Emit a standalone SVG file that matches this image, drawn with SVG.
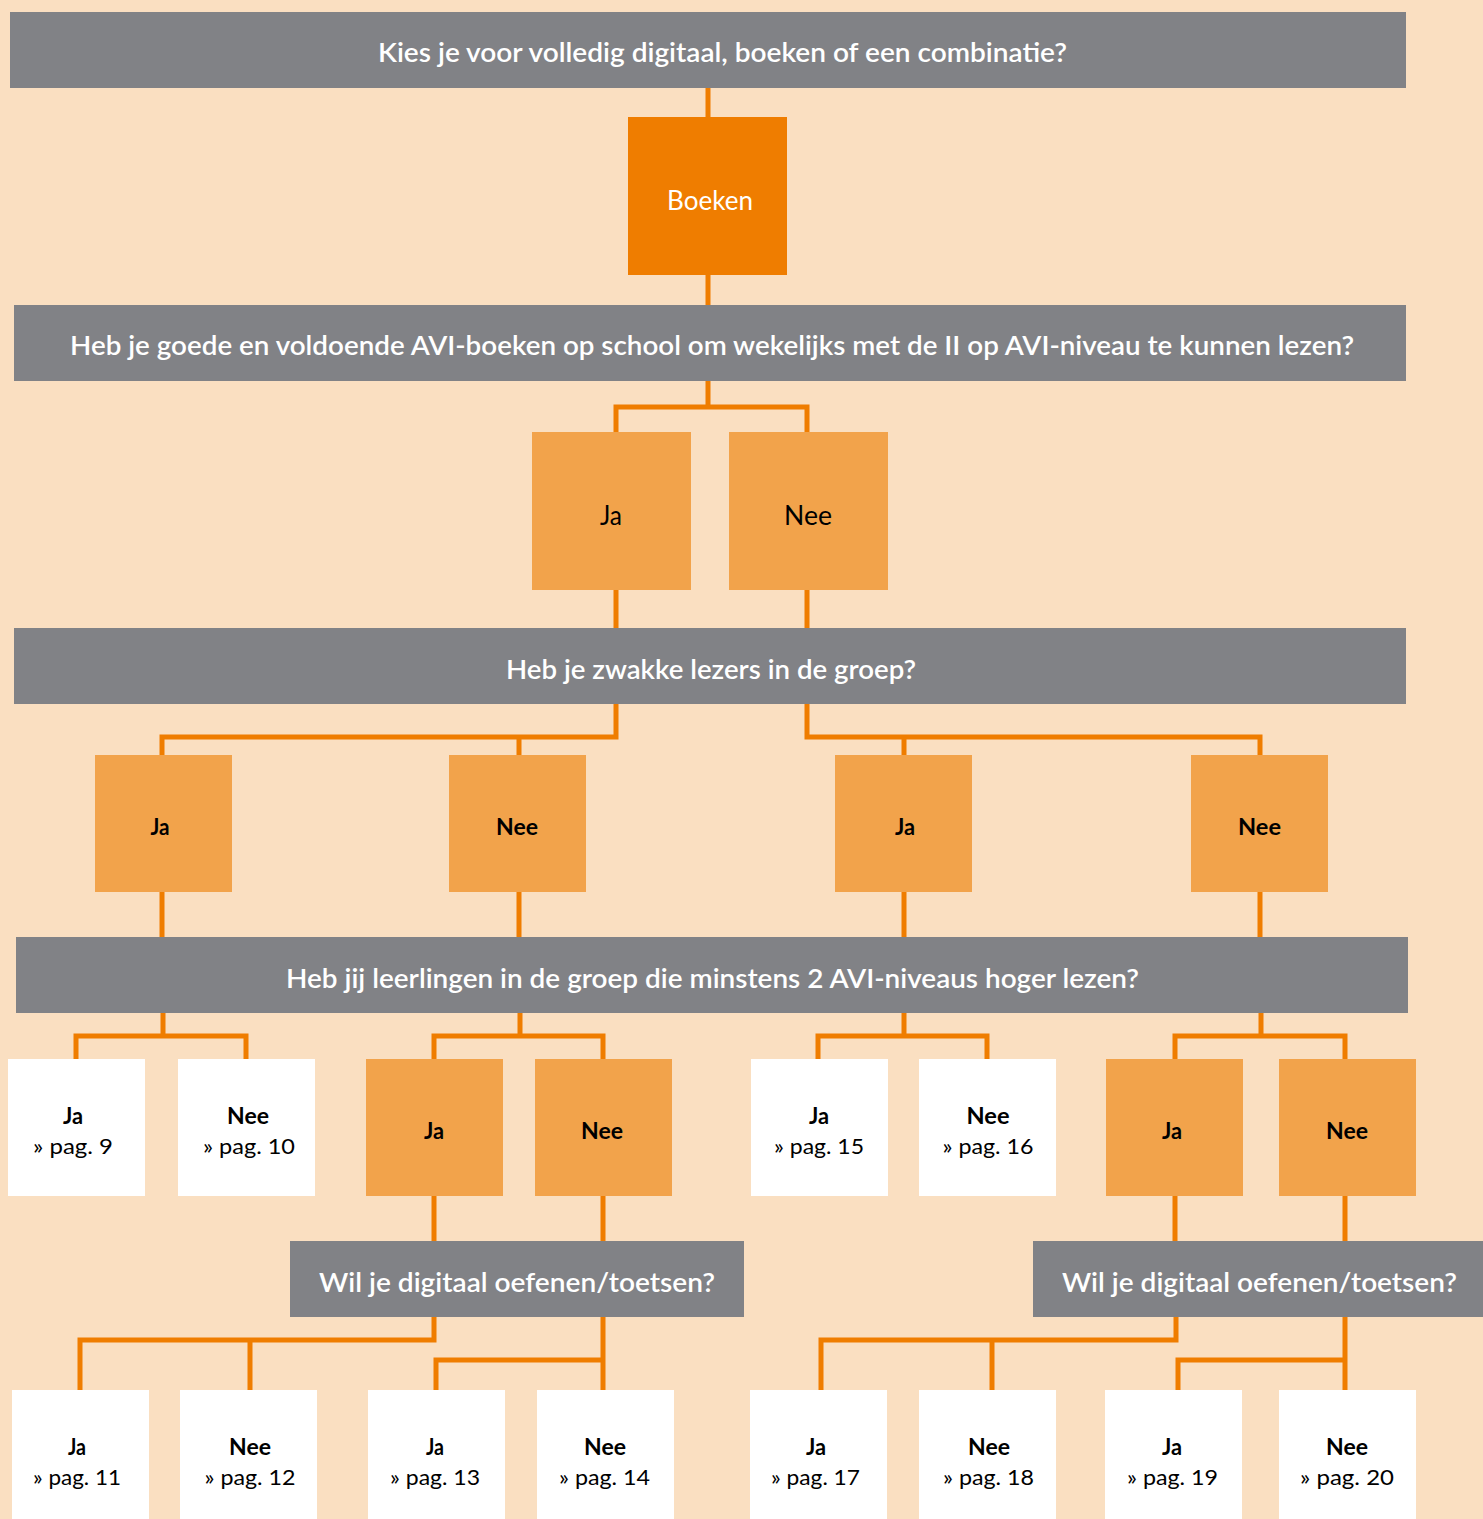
<svg xmlns="http://www.w3.org/2000/svg" width="1483" height="1519" viewBox="0 0 1483 1519">
<style>
.bg{fill:#FADFC1}
.q{fill:#818286}
.qt{font-family:Lato,"Noto Sans","Liberation Sans",sans-serif;font-weight:600;font-size:26px;fill:#FFFFFF;text-anchor:middle}
.dark{fill:#EF7D00}
.lo{fill:#F2A34B}
.wh{fill:#FFFFFF}
.t2{font-family:Lato,"Noto Sans","Liberation Sans",sans-serif;font-weight:400;font-size:27px;fill:#000000;text-anchor:middle}
.t3{font-family:Lato,"Noto Sans","Liberation Sans",sans-serif;font-weight:700;font-size:23px;fill:#000000;text-anchor:middle}
.tb{font-family:Lato,"Noto Sans","Liberation Sans",sans-serif;font-weight:700;font-size:22px;fill:#000000;text-anchor:middle}
.tp{font-family:Lato,"Noto Sans","Liberation Sans",sans-serif;font-weight:400;font-size:22px;fill:#000000;text-anchor:middle}
.boek{font-family:Lato,"Noto Sans","Liberation Sans",sans-serif;font-weight:400;font-size:26px;fill:#FFFFFF;text-anchor:middle}
.c{fill:none;stroke:#EF7D00;stroke-width:5;stroke-linejoin:miter}
</style>
<rect class="bg" x="0" y="0" width="1483" height="1519"/>

<g id="connectors">
<path class="c" d="M708 88V117M708 275V305"/>
<path class="c" d="M708 381V407M616 432V407H807V432"/>
<path class="c" d="M616 590V628M807 590V628"/>
<path class="c" d="M616 704V737H162V755M519 737V755"/>
<path class="c" d="M807 704V737H1260V755M904 737V755"/>
<path class="c" d="M162 892V937M519 892V937M904 892V937M1260 892V937"/>
<path class="c" d="M163 1013V1036M76 1059V1036H246V1059"/>
<path class="c" d="M520 1013V1036M434 1059V1036H603V1059"/>
<path class="c" d="M904 1013V1036M818 1059V1036H987V1059"/>
<path class="c" d="M1261 1013V1036M1175 1059V1036H1345V1059"/>
<path class="c" d="M434 1196V1241M603 1196V1241M1175 1196V1241M1345 1196V1241"/>
<path class="c" d="M434 1317V1340H80V1390M250 1340V1390"/>
<path class="c" d="M603 1317V1390M603 1360H436V1390"/>
<path class="c" d="M1176 1317V1340H821V1390M992 1340V1390"/>
<path class="c" d="M1345 1317V1390M1345 1360H1178V1390"/>
</g>

<g id="q1"><rect class="q" x="10" y="12" width="1396" height="76"/>
<text class="qt" x="722.5" y="62" textLength="689" lengthAdjust="spacingAndGlyphs">Kies je voor volledig digitaal, boeken of een combinatie?</text></g>

<g id="boeken"><rect class="dark" x="628" y="117" width="159" height="158"/>
<text class="boek" x="710" y="210" textLength="86" lengthAdjust="spacingAndGlyphs">Boeken</text></g>

<g id="q2"><rect class="q" x="14" y="305" width="1392" height="76"/>
<text class="qt" x="712" y="355" textLength="1284" lengthAdjust="spacingAndGlyphs">Heb je goede en voldoende AVI-boeken op school om wekelijks met de II op AVI-niveau te kunnen lezen?</text></g>

<g id="q2-ja"><rect class="lo" x="532" y="432" width="159" height="158"/>
<text class="t2" x="611" y="525" textLength="22" lengthAdjust="spacingAndGlyphs">Ja</text></g>
<g id="q2-nee"><rect class="lo" x="729" y="432" width="159" height="158"/>
<text class="t2" x="808" y="525" textLength="48" lengthAdjust="spacingAndGlyphs">Nee</text></g>

<g id="q3"><rect class="q" x="14" y="628" width="1392" height="76"/>
<text class="qt" x="711" y="679" textLength="410" lengthAdjust="spacingAndGlyphs">Heb je zwakke lezers in de groep?</text></g>

<g id="q3-ja-a"><rect class="lo" x="95" y="755" width="137" height="137"/>
<text class="t3" x="160" y="835" textLength="19" lengthAdjust="spacingAndGlyphs">Ja</text></g>
<g id="q3-nee-a"><rect class="lo" x="449" y="755" width="137" height="137"/>
<text class="t3" x="517" y="835" textLength="42" lengthAdjust="spacingAndGlyphs">Nee</text></g>
<g id="q3-ja-b"><rect class="lo" x="835" y="755" width="137" height="137"/>
<text class="t3" x="905" y="835" textLength="20" lengthAdjust="spacingAndGlyphs">Ja</text></g>
<g id="q3-nee-b"><rect class="lo" x="1191" y="755" width="137" height="137"/>
<text class="t3" x="1259.5" y="835" textLength="43" lengthAdjust="spacingAndGlyphs">Nee</text></g>

<g id="q4"><rect class="q" x="16" y="937" width="1392" height="76"/>
<text class="qt" x="712.5" y="988" textLength="853" lengthAdjust="spacingAndGlyphs">Heb jij leerlingen in de groep die minstens 2 AVI-niveaus hoger lezen?</text></g>

<g id="r9"><rect class="wh" x="8" y="1059" width="137" height="137"/>
<text class="tb" x="73" y="1124" textLength="20" lengthAdjust="spacingAndGlyphs">Ja</text>
<text class="tp" x="73" y="1154" textLength="80" lengthAdjust="spacingAndGlyphs">» pag. 9</text></g>
<g id="r10"><rect class="wh" x="178" y="1059" width="137" height="137"/>
<text class="tb" x="248" y="1124" textLength="42" lengthAdjust="spacingAndGlyphs">Nee</text>
<text class="tp" x="249" y="1154" textLength="92" lengthAdjust="spacingAndGlyphs">» pag. 10</text></g>
<g id="q4-ja-a"><rect class="lo" x="366" y="1059" width="137" height="137"/>
<text class="t3" x="434" y="1139" textLength="20" lengthAdjust="spacingAndGlyphs">Ja</text></g>
<g id="q4-nee-a"><rect class="lo" x="535" y="1059" width="137" height="137"/>
<text class="t3" x="602" y="1139" textLength="42" lengthAdjust="spacingAndGlyphs">Nee</text></g>
<g id="r15"><rect class="wh" x="751" y="1059" width="137" height="137"/>
<text class="tb" x="819" y="1124" textLength="20" lengthAdjust="spacingAndGlyphs">Ja</text>
<text class="tp" x="819" y="1154" textLength="90" lengthAdjust="spacingAndGlyphs">» pag. 15</text></g>
<g id="r16"><rect class="wh" x="919" y="1059" width="137" height="137"/>
<text class="tb" x="988" y="1124" textLength="43" lengthAdjust="spacingAndGlyphs">Nee</text>
<text class="tp" x="988" y="1154" textLength="91" lengthAdjust="spacingAndGlyphs">» pag. 16</text></g>
<g id="q4-ja-b"><rect class="lo" x="1106" y="1059" width="137" height="137"/>
<text class="t3" x="1172" y="1139" textLength="20" lengthAdjust="spacingAndGlyphs">Ja</text></g>
<g id="q4-nee-b"><rect class="lo" x="1279" y="1059" width="137" height="137"/>
<text class="t3" x="1347" y="1139" textLength="42" lengthAdjust="spacingAndGlyphs">Nee</text></g>

<g id="q5"><rect class="q" x="290" y="1241" width="454" height="76"/>
<text class="qt" x="517" y="1292" textLength="396" lengthAdjust="spacingAndGlyphs">Wil je digitaal oefenen/toetsen?</text></g>
<g id="q6"><rect class="q" x="1033" y="1241" width="450" height="76"/>
<text class="qt" x="1259.5" y="1292" textLength="395" lengthAdjust="spacingAndGlyphs">Wil je digitaal oefenen/toetsen?</text></g>

<g id="r11"><rect class="wh" x="12" y="1390" width="137" height="129"/>
<text class="tb" x="77" y="1455" textLength="18" lengthAdjust="spacingAndGlyphs">Ja</text>
<text class="tp" x="77" y="1485" textLength="88" lengthAdjust="spacingAndGlyphs">» pag. 11</text></g>
<g id="r12"><rect class="wh" x="180" y="1390" width="137" height="129"/>
<text class="tb" x="250" y="1455" textLength="42" lengthAdjust="spacingAndGlyphs">Nee</text>
<text class="tp" x="250" y="1485" textLength="91" lengthAdjust="spacingAndGlyphs">» pag. 12</text></g>
<g id="r13"><rect class="wh" x="368" y="1390" width="137" height="129"/>
<text class="tb" x="435" y="1455" textLength="18" lengthAdjust="spacingAndGlyphs">Ja</text>
<text class="tp" x="435" y="1485" textLength="90" lengthAdjust="spacingAndGlyphs">» pag. 13</text></g>
<g id="r14"><rect class="wh" x="537" y="1390" width="137" height="129"/>
<text class="tb" x="605" y="1455" textLength="42" lengthAdjust="spacingAndGlyphs">Nee</text>
<text class="tp" x="604.5" y="1485" textLength="91" lengthAdjust="spacingAndGlyphs">» pag. 14</text></g>
<g id="r17"><rect class="wh" x="750" y="1390" width="137" height="129"/>
<text class="tb" x="816" y="1455" textLength="20" lengthAdjust="spacingAndGlyphs">Ja</text>
<text class="tp" x="815.5" y="1485" textLength="89" lengthAdjust="spacingAndGlyphs">» pag. 17</text></g>
<g id="r18"><rect class="wh" x="919" y="1390" width="137" height="129"/>
<text class="tb" x="989" y="1455" textLength="42" lengthAdjust="spacingAndGlyphs">Nee</text>
<text class="tp" x="988.5" y="1485" textLength="91" lengthAdjust="spacingAndGlyphs">» pag. 18</text></g>
<g id="r19"><rect class="wh" x="1105" y="1390" width="137" height="129"/>
<text class="tb" x="1172" y="1455" textLength="20" lengthAdjust="spacingAndGlyphs">Ja</text>
<text class="tp" x="1172.5" y="1485" textLength="91" lengthAdjust="spacingAndGlyphs">» pag. 19</text></g>
<g id="r20"><rect class="wh" x="1279" y="1390" width="137" height="129"/>
<text class="tb" x="1347" y="1455" textLength="42" lengthAdjust="spacingAndGlyphs">Nee</text>
<text class="tp" x="1347" y="1485" textLength="94" lengthAdjust="spacingAndGlyphs">» pag. 20</text></g>
</svg>
